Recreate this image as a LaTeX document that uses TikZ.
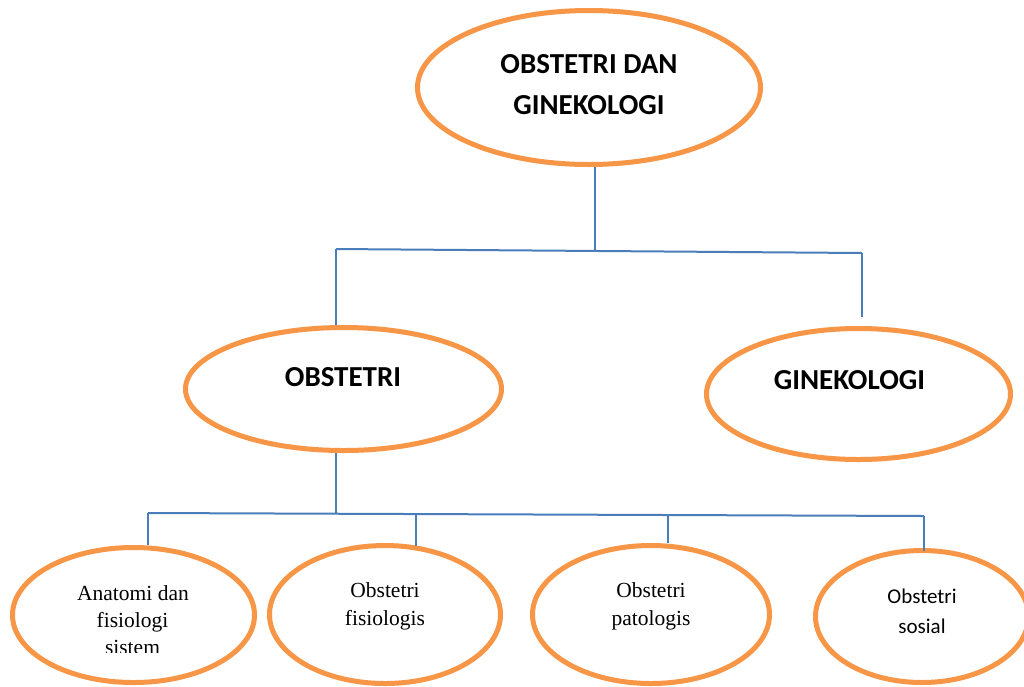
\documentclass[tikz,border=0pt]{standalone}
\usepackage{fontspec}
\setmainfont{Liberation Serif}
\newfontfamily\calibri{Carlito}
\usetikzlibrary{shapes.geometric}
\definecolor{ellorange}{HTML}{F79646}
\definecolor{connblue}{HTML}{4A7EBB}
\tikzset{
  ell/.style={ellipse, draw=ellorange, line width=5pt, inner sep=0pt, fill=white},
  conn/.style={draw=connblue, line width=2pt},
  head/.style={font=\calibri\bfseries\fontsize{29}{34}\selectfont, anchor=base, inner sep=0pt},
  serif/.style={font=\fontsize{21.5}{27}\selectfont, anchor=base, inner sep=0pt},
  sans/.style={font=\calibri\fontsize{21}{27}\selectfont, anchor=base, inner sep=0pt}
}
\begin{document}
\begin{tikzpicture}[x=1pt,y=-1pt]
\useasboundingbox (0,0) rectangle (1024,686);
\fill[white] (0,0) rectangle (1024,686);

% ellipses
\node[ell, minimum width=343pt, minimum height=154pt] (top) at (589,87.5) {};
\node[ell, minimum width=316pt, minimum height=123pt] (obst) at (343.5,389) {};
\node[ell, minimum width=304pt, minimum height=131pt] (gin) at (858.5,394) {};
\node[ell, minimum width=242pt, minimum height=135pt] (b1) at (133.5,615) {};
\node[ell, minimum width=231pt, minimum height=138pt] (b2) at (385,614.5) {};
\node[ell, minimum width=237pt, minimum height=138pt] (b3) at (651,614.5) {};
\node[ell, minimum width=213pt, minimum height=132pt] (b4) at (922,616.5) {};

% connector junctions
\coordinate (j1) at (594.5,251);
\coordinate (bl) at (336,249);
\coordinate (br) at (862,253);
\coordinate (k) at (336,513.7);
\coordinate (cl) at (148,513);
\coordinate (c2) at (416,514);
\coordinate (c3) at (668,515);
\coordinate (cr) at (924,516);

% connectors
\draw[conn] (j1 |- top.south) -- (j1);
\draw[conn] (bl) -- (br);
\draw[conn] (bl) -- (bl |- obst.north);
\draw[conn] (br) -- ([yshift=9pt]br |- gin.north);
\draw[conn] (k |- obst.south) -- (k);
\draw[conn] (cl) -- (cr);
\draw[conn] (cl) -- (cl |- b1.north);
\draw[conn] (c2) -- ([yshift=-3pt]c2 |- b2.north);
\draw[conn] (c3) -- (c3 |- b3.north);
\draw[conn] (cr) -- ([yshift=-3pt]cr |- b4.north);

% texts
\node[head] (t0a) at (589,73) {OBSTETRI DAN};
\node[head] (t0b) at (589,114) {GINEKOLOGI};
\node[head] (t1) at (343,386) {OBSTETRI};
\node[head] (t2) at (849.5,389) {GINEKOLOGI};

\node[serif] (t3a) at (133,600) {Anatomi dan};
\node[serif] (t3b) at (132.5,627) {fisiologi};
\begin{scope}
\clip (0,560) rectangle (270,652);
\node[serif] (t3c) at (132.5,654) {sistem};
\end{scope}

\node[serif] (t4a) at (385,597) {Obstetri};
\node[serif] (t4b) at (385,625) {fisiologis};
\node[serif] (t5a) at (651,597) {Obstetri};
\node[serif] (t5b) at (651,625) {patologis};
\node[sans] (t6a) at (922,603) {Obstetri};
\node[sans] (t6b) at (922,633) {sosial};
\end{tikzpicture}
\end{document}
